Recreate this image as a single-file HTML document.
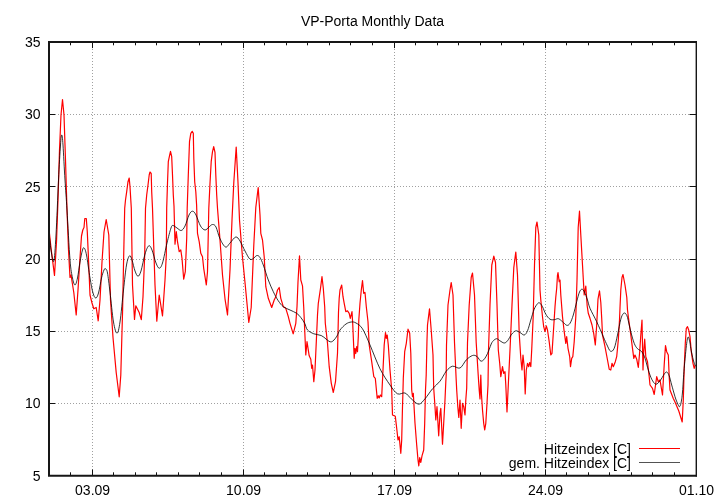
<!DOCTYPE html>
<html><head><meta charset="utf-8"><title>VP-Porta Monthly Data</title>
<style>
html,body{margin:0;padding:0;background:#fff;}
body{width:720px;height:504px;overflow:hidden;}
svg{display:block;}
text{font-family:"Liberation Sans",sans-serif;font-size:14px;fill:#000;}
</style></head><body>
<svg width="720" height="504" viewBox="0 0 720 504">
<rect x="0" y="0" width="720" height="504" fill="#fff"/>
<g stroke="#a0a0a0" stroke-width="1" stroke-dasharray="1 2" fill="none" shape-rendering="crispEdges">
<line x1="92.5" y1="43.0" x2="92.5" y2="475.6"/>
<line x1="243.5" y1="43.0" x2="243.5" y2="475.6"/>
<line x1="394.5" y1="43.0" x2="394.5" y2="475.6"/>
<line x1="545.5" y1="43.0" x2="545.5" y2="475.6"/>
<line x1="58.0" y1="114.5" x2="696.0" y2="114.5"/>
<line x1="58.0" y1="186.5" x2="696.0" y2="186.5"/>
<line x1="58.0" y1="259.5" x2="696.0" y2="259.5"/>
<line x1="58.0" y1="331.5" x2="696.0" y2="331.5"/>
<line x1="58.0" y1="403.5" x2="696.0" y2="403.5"/>
</g>
<g stroke="#111" stroke-width="1" fill="none">
<line x1="70.5" y1="475.6" x2="70.5" y2="472.3"/>
<line x1="70.5" y1="42.0" x2="70.5" y2="45.3"/>
<line x1="92.5" y1="475.6" x2="92.5" y2="469.5"/>
<line x1="92.5" y1="42.0" x2="92.5" y2="48.1"/>
<line x1="113.5" y1="475.6" x2="113.5" y2="472.3"/>
<line x1="113.5" y1="42.0" x2="113.5" y2="45.3"/>
<line x1="135.5" y1="475.6" x2="135.5" y2="472.3"/>
<line x1="135.5" y1="42.0" x2="135.5" y2="45.3"/>
<line x1="156.5" y1="475.6" x2="156.5" y2="472.3"/>
<line x1="156.5" y1="42.0" x2="156.5" y2="45.3"/>
<line x1="178.5" y1="475.6" x2="178.5" y2="472.3"/>
<line x1="178.5" y1="42.0" x2="178.5" y2="45.3"/>
<line x1="199.5" y1="475.6" x2="199.5" y2="472.3"/>
<line x1="199.5" y1="42.0" x2="199.5" y2="45.3"/>
<line x1="221.5" y1="475.6" x2="221.5" y2="472.3"/>
<line x1="221.5" y1="42.0" x2="221.5" y2="45.3"/>
<line x1="243.5" y1="475.6" x2="243.5" y2="469.5"/>
<line x1="243.5" y1="42.0" x2="243.5" y2="48.1"/>
<line x1="264.5" y1="475.6" x2="264.5" y2="472.3"/>
<line x1="264.5" y1="42.0" x2="264.5" y2="45.3"/>
<line x1="286.5" y1="475.6" x2="286.5" y2="472.3"/>
<line x1="286.5" y1="42.0" x2="286.5" y2="45.3"/>
<line x1="307.5" y1="475.6" x2="307.5" y2="472.3"/>
<line x1="307.5" y1="42.0" x2="307.5" y2="45.3"/>
<line x1="329.5" y1="475.6" x2="329.5" y2="472.3"/>
<line x1="329.5" y1="42.0" x2="329.5" y2="45.3"/>
<line x1="350.5" y1="475.6" x2="350.5" y2="472.3"/>
<line x1="350.5" y1="42.0" x2="350.5" y2="45.3"/>
<line x1="372.5" y1="475.6" x2="372.5" y2="472.3"/>
<line x1="372.5" y1="42.0" x2="372.5" y2="45.3"/>
<line x1="394.5" y1="475.6" x2="394.5" y2="469.5"/>
<line x1="394.5" y1="42.0" x2="394.5" y2="48.1"/>
<line x1="415.5" y1="475.6" x2="415.5" y2="472.3"/>
<line x1="415.5" y1="42.0" x2="415.5" y2="45.3"/>
<line x1="437.5" y1="475.6" x2="437.5" y2="472.3"/>
<line x1="437.5" y1="42.0" x2="437.5" y2="45.3"/>
<line x1="458.5" y1="475.6" x2="458.5" y2="472.3"/>
<line x1="458.5" y1="42.0" x2="458.5" y2="45.3"/>
<line x1="480.5" y1="475.6" x2="480.5" y2="472.3"/>
<line x1="480.5" y1="42.0" x2="480.5" y2="45.3"/>
<line x1="501.5" y1="475.6" x2="501.5" y2="472.3"/>
<line x1="501.5" y1="42.0" x2="501.5" y2="45.3"/>
<line x1="523.5" y1="475.6" x2="523.5" y2="472.3"/>
<line x1="523.5" y1="42.0" x2="523.5" y2="45.3"/>
<line x1="545.5" y1="475.6" x2="545.5" y2="469.5"/>
<line x1="545.5" y1="42.0" x2="545.5" y2="48.1"/>
<line x1="566.5" y1="475.6" x2="566.5" y2="472.3"/>
<line x1="566.5" y1="42.0" x2="566.5" y2="45.3"/>
<line x1="588.5" y1="475.6" x2="588.5" y2="472.3"/>
<line x1="588.5" y1="42.0" x2="588.5" y2="45.3"/>
<line x1="609.5" y1="475.6" x2="609.5" y2="472.3"/>
<line x1="609.5" y1="42.0" x2="609.5" y2="45.3"/>
<line x1="631.5" y1="475.6" x2="631.5" y2="472.3"/>
<line x1="631.5" y1="42.0" x2="631.5" y2="45.3"/>
<line x1="652.5" y1="475.6" x2="652.5" y2="472.3"/>
<line x1="652.5" y1="42.0" x2="652.5" y2="45.3"/>
<line x1="674.5" y1="475.6" x2="674.5" y2="472.3"/>
<line x1="674.5" y1="42.0" x2="674.5" y2="45.3"/>
<line x1="49" y1="114.5" x2="55.5" y2="114.5"/>
<line x1="696" y1="114.5" x2="689.5" y2="114.5"/>
<line x1="49" y1="186.5" x2="55.5" y2="186.5"/>
<line x1="696" y1="186.5" x2="689.5" y2="186.5"/>
<line x1="49" y1="259.5" x2="55.5" y2="259.5"/>
<line x1="696" y1="259.5" x2="689.5" y2="259.5"/>
<line x1="49" y1="331.5" x2="55.5" y2="331.5"/>
<line x1="696" y1="331.5" x2="689.5" y2="331.5"/>
<line x1="49" y1="403.5" x2="55.5" y2="403.5"/>
<line x1="696" y1="403.5" x2="689.5" y2="403.5"/>
</g>
<polyline fill="none" stroke="#ff0000" stroke-width="1.2" stroke-linejoin="round" points="49.0,229.0 51.0,248.0 54.5,275.5 56.5,242.0 58.0,200.0 59.5,150.0 61.0,115.0 62.5,99.5 64.0,115.0 65.5,160.0 67.0,210.0 68.5,250.0 70.0,277.5 71.0,275.0 73.8,292.5 76.2,315.0 78.0,290.0 80.0,258.0 81.5,236.0 82.8,230.0 84.0,227.5 84.8,218.5 86.3,218.5 87.3,232.0 88.2,252.0 90.0,295.0 92.0,303.0 93.8,308.8 96.2,307.5 98.2,320.8 100.0,300.0 102.0,262.0 104.0,232.0 106.2,219.5 108.8,235.0 110.5,300.0 113.0,337.5 116.2,372.5 119.2,396.8 120.8,375.0 122.6,310.0 123.7,255.0 124.7,208.3 125.5,200.0 126.7,191.7 128.0,181.7 129.2,178.0 130.0,186.7 130.8,200.0 131.3,208.3 132.5,285.0 134.5,319.5 135.8,305.8 139.2,312.5 141.3,319.7 143.0,296.7 144.7,255.0 145.5,208.3 146.7,195.0 148.0,185.0 149.2,175.0 150.0,172.0 151.2,173.3 151.7,191.7 152.5,208.3 155.0,285.0 156.8,321.2 159.2,295.0 162.5,315.8 165.0,280.0 166.3,255.0 166.7,208.3 167.5,183.3 168.3,161.7 169.5,155.8 170.5,151.3 171.7,156.7 172.5,175.0 173.3,195.0 174.0,206.0 175.0,244.2 176.3,231.7 177.5,241.7 179.2,251.7 180.8,250.0 182.0,258.3 183.7,279.2 185.3,271.7 186.7,238.3 187.2,208.3 188.3,175.0 189.5,141.7 190.8,133.3 192.2,131.3 193.3,133.3 193.8,158.3 194.7,181.7 195.8,191.7 196.6,205.0 197.5,233.3 199.2,241.7 200.8,253.3 202.5,256.7 203.7,268.3 206.3,285.0 207.5,271.7 208.8,208.3 210.0,183.3 211.2,161.7 212.5,151.7 213.7,146.7 215.0,152.5 215.8,175.0 216.7,195.0 217.5,208.3 220.0,240.0 222.5,275.0 225.0,298.8 227.5,315.0 230.0,270.0 232.0,220.0 233.8,182.5 236.2,147.0 238.0,182.5 239.5,220.0 242.5,257.5 245.0,282.5 248.8,322.5 251.2,307.5 253.8,245.0 255.8,207.5 258.2,187.5 260.0,215.0 260.8,233.3 262.5,240.0 264.2,256.7 265.8,286.7 268.3,298.3 271.7,307.5 274.2,300.0 275.8,296.7 277.5,290.0 279.2,287.5 280.8,298.3 283.3,306.7 285.8,308.3 288.3,316.7 290.0,323.3 293.2,333.8 295.8,323.3 297.0,306.7 298.0,281.7 299.5,255.8 300.8,280.0 302.5,285.8 303.7,306.7 305.8,355.0 307.0,341.7 309.2,355.8 310.8,359.2 311.7,368.3 312.5,365.0 313.8,381.7 315.0,370.0 316.3,341.7 317.5,315.0 318.3,303.3 320.5,288.3 322.0,276.7 323.3,288.3 324.7,306.7 325.3,323.3 327.5,343.3 329.2,366.7 331.3,383.3 333.3,392.5 335.5,381.7 337.5,353.3 338.5,312.0 339.2,298.3 340.0,290.0 341.7,285.0 343.0,296.7 344.2,303.3 345.8,311.7 347.5,310.8 349.2,313.3 350.3,318.3 352.0,311.7 352.7,323.3 354.2,358.3 355.0,348.3 355.8,353.3 356.7,346.7 357.5,351.7 358.3,336.7 358.8,320.0 360.0,303.3 361.3,290.0 362.5,280.5 363.7,293.3 365.0,292.5 366.3,306.7 368.0,321.7 369.2,345.0 371.7,361.7 373.8,376.7 375.3,378.3 377.2,398.3 378.3,395.8 379.2,398.0 380.3,395.0 381.7,396.7 383.0,370.0 384.2,345.0 385.5,332.5 386.3,338.3 387.2,335.0 388.3,345.0 390.0,370.0 391.7,390.0 392.5,415.0 395.3,416.3 396.7,428.3 398.0,440.0 399.2,436.7 400.8,453.3 401.7,440.0 402.5,406.7 403.0,390.0 403.3,378.3 404.7,351.7 406.3,343.3 408.0,329.2 409.7,333.3 410.8,353.3 411.7,390.0 412.5,396.7 413.3,393.3 415.0,423.3 416.7,445.0 418.0,460.0 418.8,465.8 419.7,457.5 420.8,462.5 422.0,455.8 423.7,450.0 424.7,423.3 425.5,390.0 426.2,375.0 427.0,340.0 427.5,325.0 429.5,308.8 431.2,330.0 433.0,355.0 433.7,388.0 435.0,406.7 435.8,420.0 437.0,406.7 438.7,435.8 440.0,413.3 440.8,408.3 442.5,444.2 443.7,423.3 445.0,400.0 445.8,382.0 446.2,375.0 446.5,345.0 448.0,305.0 450.0,290.0 451.2,282.5 453.0,295.0 454.5,342.5 456.2,380.0 456.7,390.0 457.8,406.7 458.8,417.5 460.0,400.0 461.2,428.3 462.5,403.3 463.7,406.7 465.0,415.0 465.8,400.0 466.7,388.0 467.5,342.5 469.2,305.0 471.2,277.5 472.5,273.0 474.5,295.0 476.2,342.5 478.2,375.0 479.2,390.0 480.0,399.0 480.8,375.0 481.5,395.0 482.5,410.0 483.7,423.3 484.7,430.0 485.8,423.3 487.0,403.3 488.0,385.0 488.5,350.0 490.0,305.0 491.8,265.0 493.8,256.2 495.5,262.5 497.0,305.0 498.3,350.0 499.7,363.3 500.8,376.7 502.5,366.7 503.7,373.3 505.0,371.7 505.8,385.0 507.0,412.0 508.3,385.0 510.0,350.0 512.0,305.0 513.8,267.5 515.8,252.0 517.5,275.0 519.2,333.3 520.8,358.3 522.0,370.0 523.0,355.0 524.2,366.7 525.2,394.0 526.3,370.0 527.5,363.3 528.7,366.7 529.7,362.5 530.8,366.7 531.7,350.0 533.2,316.7 534.5,265.0 535.8,227.5 537.0,222.0 538.8,235.0 540.0,290.0 540.8,300.0 542.5,316.7 543.7,326.7 545.0,331.7 546.3,325.8 547.5,330.0 549.2,341.7 550.8,355.0 552.0,353.3 553.3,333.3 555.0,306.7 555.8,297.0 556.7,288.3 557.5,275.0 558.0,272.5 559.2,281.7 560.0,280.0 560.8,295.0 562.5,316.7 564.2,331.7 565.8,343.3 566.7,336.7 568.0,348.3 569.7,356.7 570.5,366.7 571.7,358.3 572.8,356.7 574.2,341.7 575.8,316.7 577.0,280.0 578.2,227.5 579.5,211.2 580.8,235.0 582.5,265.0 584.2,295.0 585.8,286.2 587.2,306.0 588.3,313.3 590.0,318.3 592.0,325.0 593.7,333.3 595.3,345.0 596.7,325.0 598.0,299.0 599.5,290.8 600.8,302.5 601.7,318.0 602.5,335.0 605.0,346.7 607.5,360.0 609.2,369.2 610.8,370.0 612.0,363.3 613.3,366.7 615.3,361.7 616.7,356.7 618.3,340.0 619.5,320.0 620.0,308.0 620.8,290.0 622.0,277.5 623.0,274.5 625.0,285.0 626.8,297.5 627.5,310.0 629.2,323.3 630.8,335.0 632.5,348.3 633.8,358.3 635.0,355.0 636.7,359.2 638.3,367.5 639.7,351.7 640.8,335.0 642.0,320.0 643.0,370.0 643.7,351.7 644.7,339.2 645.8,356.7 647.5,361.7 649.2,376.7 650.0,385.0 652.5,388.3 654.2,394.5 656.7,376.7 658.3,381.7 660.0,380.0 662.5,395.0 664.2,365.0 665.5,345.5 666.7,351.7 668.3,355.0 669.2,376.7 670.0,390.0 673.3,398.5 675.0,402.0 678.8,411.0 682.2,422.0 683.3,400.0 684.2,368.3 685.3,343.3 686.3,328.3 687.5,326.7 688.7,330.0 690.0,336.7 691.3,351.7 693.0,363.3 694.2,368.3 695.3,365.0"/>
<path fill="none" stroke="#000" stroke-width="0.8" stroke-linejoin="round" d="M49.0,232.0 C49.3,235.0 50.2,245.1 51.0,250.0 C51.8,254.9 52.9,263.8 53.8,261.2 C54.6,258.8 55.2,248.5 56.0,235.0 C56.8,221.5 57.8,195.0 58.5,180.0 C59.2,165.0 60.0,152.5 60.5,145.0 C61.0,137.5 61.3,135.0 61.8,135.0 C62.2,135.0 62.5,137.5 63.0,145.0 C63.5,152.5 64.3,169.2 65.0,180.0 C65.7,190.8 66.2,196.7 67.0,210.0 C67.8,223.3 69.1,248.7 70.0,260.0 C70.9,271.3 71.7,273.8 72.5,278.0 C73.3,282.2 74.2,285.0 75.0,285.0 C75.8,285.0 76.7,281.8 77.5,278.0 C78.3,274.2 79.2,266.7 80.0,262.0 C80.8,257.3 81.8,252.3 82.5,250.0 C83.2,247.7 83.6,247.2 84.2,248.0 C84.9,248.8 85.5,250.0 86.5,255.0 C87.5,260.0 88.9,271.7 90.0,278.0 C91.1,284.3 92.0,289.7 93.0,293.0 C94.0,296.3 94.8,298.0 95.8,298.0 C96.7,298.0 97.5,296.3 98.5,293.0 C99.5,289.7 100.6,281.8 101.5,278.0 C102.4,274.2 103.3,271.5 104.0,270.0 C104.7,268.5 104.9,268.2 105.5,268.8 C106.1,269.2 106.8,269.1 107.5,273.0 C108.2,276.9 109.0,283.8 110.0,292.0 C111.0,300.2 112.3,315.1 113.5,322.0 C114.7,328.9 115.9,333.2 117.0,333.2 C118.1,333.2 118.9,329.2 120.0,322.0 C121.1,314.8 122.4,299.5 123.5,290.0 C124.6,280.5 125.5,270.7 126.5,265.0 C127.5,259.3 128.6,256.6 129.5,255.8 C130.4,254.9 131.1,257.5 132.0,260.0 C132.9,262.5 134.0,268.3 135.0,271.0 C136.0,273.7 137.0,276.2 138.0,276.2 C139.0,276.2 139.8,274.7 141.0,271.0 C142.2,267.3 143.7,258.2 145.0,254.0 C146.3,249.8 147.6,246.4 148.8,245.8 C149.9,245.1 150.8,247.1 152.0,250.0 C153.2,252.9 154.8,260.0 156.0,263.0 C157.2,266.0 158.2,268.2 159.2,268.2 C160.3,268.2 161.2,267.2 162.5,263.0 C163.8,258.8 165.6,248.8 167.0,243.0 C168.4,237.2 170.0,230.9 171.0,228.0 C172.0,225.1 172.0,225.5 173.0,225.5 C174.0,225.5 175.6,227.2 177.0,228.0 C178.4,228.8 179.9,230.8 181.2,230.5 C182.6,230.2 183.7,228.6 185.0,226.0 C186.3,223.4 187.8,217.5 189.0,215.0 C190.2,212.5 191.3,211.2 192.5,211.2 C193.7,211.2 194.7,212.5 196.0,215.0 C197.3,217.5 199.0,223.5 200.5,226.0 C202.0,228.5 203.6,229.8 205.0,230.0 C206.4,230.2 207.8,227.9 209.0,227.0 C210.2,226.1 211.3,224.5 212.5,224.5 C213.7,224.5 214.8,224.6 216.0,227.0 C217.2,229.4 218.4,235.4 220.0,238.8 C221.6,242.1 223.8,246.3 225.5,247.0 C227.2,247.7 228.3,244.7 230.0,243.0 C231.7,241.3 234.1,237.3 235.8,237.0 C237.4,236.7 238.5,238.7 240.0,241.0 C241.5,243.3 243.3,248.0 245.0,251.0 C246.7,254.0 248.5,258.1 250.0,259.2 C251.5,260.4 253.1,258.5 254.0,258.0 C254.9,257.5 254.9,256.7 255.5,256.3 C256.1,255.9 256.8,255.3 257.5,255.5 C258.2,255.7 259.0,255.9 260.0,257.5 C261.0,259.1 261.9,261.2 263.3,265.0 C264.7,268.8 266.6,275.6 268.3,280.0 C270.0,284.4 271.6,288.2 273.3,291.7 C275.0,295.2 276.6,298.3 278.3,300.8 C280.0,303.3 281.4,305.2 283.3,306.7 C285.2,308.2 287.8,308.9 290.0,310.0 C292.2,311.1 294.9,312.1 296.7,313.3 C298.5,314.6 299.5,315.8 300.8,317.5 C302.1,319.2 303.6,321.2 304.7,323.3 C305.8,325.4 306.0,328.3 307.5,330.0 C309.0,331.7 311.5,332.8 313.8,333.8 C316.0,334.7 319.2,334.6 321.2,335.5 C323.3,336.4 324.7,338.0 326.0,339.0 C327.3,340.0 328.1,340.8 329.0,341.3 C329.9,341.8 330.7,342.0 331.5,341.8 C332.3,341.6 333.1,341.0 334.0,340.0 C334.9,339.0 336.0,337.7 337.0,336.0 C338.0,334.3 338.5,332.0 340.0,330.0 C341.5,328.0 344.1,325.3 346.0,324.0 C347.9,322.7 349.6,322.2 351.2,322.0 C352.9,321.8 354.1,321.9 356.0,323.0 C357.9,324.1 360.2,325.1 362.5,328.8 C364.8,332.4 367.1,338.3 370.0,345.0 C372.9,351.7 376.7,362.1 380.0,368.8 C383.3,375.4 387.1,380.8 390.0,385.0 C392.9,389.2 395.0,392.4 397.5,393.8 C400.0,395.1 402.7,392.2 405.0,393.0 C407.3,393.8 409.0,396.9 411.2,398.8 C413.5,400.6 416.5,404.2 418.8,404.2 C421.0,404.2 422.7,401.3 425.0,398.8 C427.3,396.2 430.0,391.7 432.5,388.8 C435.0,385.8 437.7,384.2 440.0,381.2 C442.3,378.3 444.2,373.8 446.2,371.2 C448.3,368.8 450.2,366.8 452.5,366.2 C454.8,365.7 457.7,369.0 460.0,368.0 C462.3,367.0 464.2,362.1 466.2,360.0 C468.3,357.9 470.7,356.1 472.5,355.5 C474.3,354.9 475.5,355.5 477.0,356.5 C478.5,357.5 479.7,361.3 481.2,361.2 C482.8,361.2 484.6,359.1 486.2,356.2 C487.9,353.4 490.1,346.6 491.2,344.0 C492.4,341.4 492.4,341.7 493.3,340.8 C494.2,339.9 495.6,338.7 496.7,338.7 C497.8,338.7 498.8,340.1 500.0,340.8 C501.2,341.5 502.9,343.0 504.2,343.0 C505.4,343.0 506.2,342.3 507.5,340.8 C508.8,339.3 510.3,335.9 511.7,334.2 C513.1,332.5 514.4,331.1 515.8,330.8 C517.2,330.5 518.6,331.8 520.0,332.5 C521.4,333.2 523.0,335.3 524.2,335.0 C525.5,334.7 526.4,333.3 527.5,330.8 C528.6,328.3 529.7,323.6 530.8,320.0 C531.9,316.4 533.1,311.9 534.2,309.2 C535.3,306.5 536.6,304.7 537.5,303.7 C538.4,302.7 538.9,302.5 539.7,303.0 C540.5,303.5 541.5,304.8 542.5,306.7 C543.5,308.6 544.5,312.1 545.8,314.2 C547.0,316.3 548.6,318.3 550.0,319.2 C551.4,320.1 552.8,319.8 554.2,319.7 C555.6,319.6 556.9,318.4 558.3,318.7 C559.7,319.0 561.1,320.6 562.5,321.7 C563.9,322.8 565.5,325.0 566.7,325.3 C568.0,325.6 568.9,325.0 570.0,323.3 C571.1,321.6 572.2,318.6 573.3,315.0 C574.4,311.4 575.7,305.5 576.7,301.7 C577.7,297.9 578.6,294.1 579.5,292.0 C580.4,289.9 581.2,289.2 582.0,289.2 C582.8,289.2 583.6,290.2 584.5,292.0 C585.4,293.8 586.6,297.3 587.5,300.0 C588.4,302.7 588.5,304.7 590.0,308.3 C591.5,311.9 594.5,317.0 596.7,321.7 C598.9,326.4 601.6,332.8 603.3,336.7 C605.0,340.6 605.8,342.6 607.0,345.0 C608.2,347.4 609.3,350.7 610.5,351.2 C611.7,351.8 613.0,351.0 614.2,348.3 C615.4,345.6 616.4,339.9 617.5,335.0 C618.6,330.1 619.9,322.7 620.8,319.2 C621.7,315.7 622.4,315.0 623.0,314.0 C623.6,313.0 624.2,313.0 624.7,313.0 C625.2,313.0 625.5,313.4 626.0,314.2 C626.5,314.9 626.7,314.6 627.5,317.5 C628.3,320.4 629.7,327.4 630.8,331.7 C631.9,336.0 633.1,340.5 634.2,343.3 C635.3,346.1 636.2,347.3 637.5,348.7 C638.8,350.1 640.5,350.1 641.7,351.7 C643.0,353.3 643.9,355.2 645.0,358.3 C646.1,361.4 647.2,366.5 648.3,370.0 C649.4,373.5 650.5,376.8 651.7,379.2 C653.0,381.6 654.4,383.9 655.8,384.2 C657.2,384.5 658.6,382.5 660.0,380.8 C661.4,379.1 663.1,375.7 664.2,374.2 C665.3,372.7 665.9,371.7 666.7,372.0 C667.5,372.3 668.4,373.6 669.2,375.8 C670.0,378.0 670.7,381.5 671.7,385.0 C672.7,388.5 674.0,393.4 675.0,396.7 C676.0,399.9 677.2,402.8 678.0,404.5 C678.8,406.2 679.0,406.9 679.5,406.7 C680.0,406.4 680.5,405.4 681.0,403.0 C681.5,400.6 682.0,397.8 682.5,392.0 C683.0,386.2 683.5,376.4 684.2,368.3 C684.9,360.2 686.0,348.5 686.7,343.3 C687.4,338.1 687.7,337.1 688.2,337.0 C688.8,336.9 689.6,341.1 690.0,343.0 C690.4,344.9 690.2,345.5 690.8,348.3 C691.3,351.1 692.5,357.1 693.3,360.0 C694.0,362.9 695.0,364.8 695.3,365.8"/>
<g stroke="#161616" fill="none"><path d="M48,42H696.9M49,41V476.6M48,475.65H697" stroke-width="2"/><path d="M696.3,41V476.6" stroke-width="1.4"/></g>
<g style="filter:grayscale(1)">
<text x="40.5" y="47.0" text-anchor="end">35</text>
<text x="40.5" y="119.3" text-anchor="end">30</text>
<text x="40.5" y="191.6" text-anchor="end">25</text>
<text x="40.5" y="263.9" text-anchor="end">20</text>
<text x="40.5" y="336.1" text-anchor="end">15</text>
<text x="40.5" y="408.4" text-anchor="end">10</text>
<text x="40.5" y="480.7" text-anchor="end">5</text>
<text x="92.6" y="494.5" text-anchor="middle">03.09</text>
<text x="243.6" y="494.5" text-anchor="middle">10.09</text>
<text x="394.6" y="494.5" text-anchor="middle">17.09</text>
<text x="545.5" y="494.5" text-anchor="middle">24.09</text>
<text x="696.5" y="494.5" text-anchor="middle">01.10</text>
<text x="372.5" y="26" text-anchor="middle">VP-Porta Monthly Data</text>
<text x="631" y="453.5" text-anchor="end">Hitzeindex [C]</text>
<text x="631" y="467.5" text-anchor="end">gem. Hitzeindex [C]</text>
</g>
<line x1="639" y1="448.5" x2="680" y2="448.5" stroke="#ff0000" stroke-width="1.1"/>
<line x1="639" y1="462.5" x2="680" y2="462.5" stroke="#000" stroke-width="0.68"/>
</svg>
</body></html>
